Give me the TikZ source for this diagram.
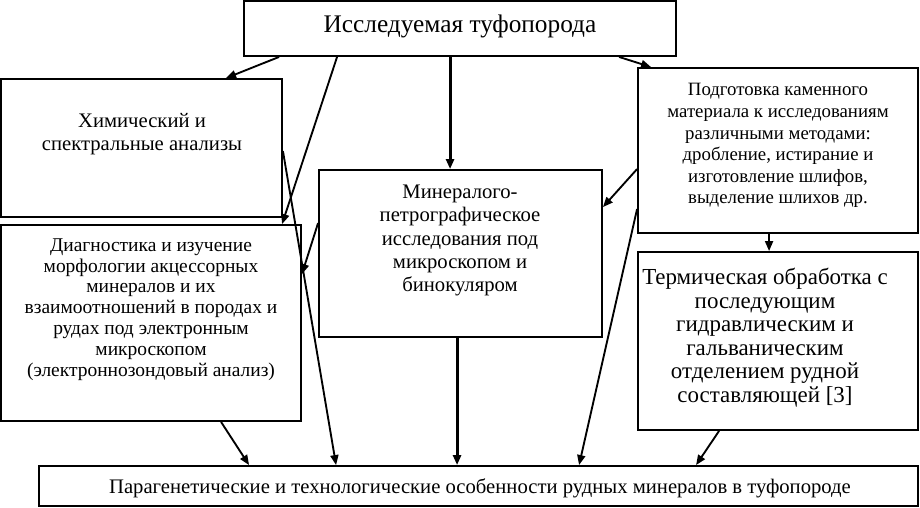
\documentclass[tikz,border=0pt]{standalone}
\usepackage{fontspec}
\setmainfont{Liberation Serif}
\usetikzlibrary{arrows.meta,calc,fit}

\begin{document}
\begin{tikzpicture}[x=0.75pt,y=-0.75pt,thick]

	\tikzstyle{block}=[draw,line width=1.4pt,inner sep=0pt]
	\tikzstyle{txt}=[anchor=north,inner sep=0pt,align=center]
	\tikzstyle{arr}=[line width=1.4pt,-{Triangle[length=7.5pt,width=6pt]}]

	\useasboundingbox (0,0) rectangle (920,507);

	% boxes
	\node[block,fit={(244,1) (676,56)}] (top) {};
	\node[block,fit={(1,79) (282,217)}] (chem) {};
	\node[block,fit={(1,225) (301,421)}] (diag) {};
	\node[block,fit={(319,170) (602,337)}] (miner) {};
	\node[block,fit={(638,68) (918,233)}] (prep) {};
	\node[block,fit={(638,252) (918,430)}] (therm) {};
	\node[block,fit={(39,466) (918,506)}] (res) {};

	% texts
	\node[anchor=base,inner sep=0pt,font=\fontsize{19}{22}\selectfont] (toptxt) at (460,32) {Исследуемая туфопорода};
	\node[txt,font=\fontsize{15.5}{17.25}\selectfont] (chemtxt) at (142,113) {Химический и\\спектральные анализы};
	\node[txt,font=\fontsize{14.6}{15.6}\selectfont] (diagtxt) at (151,238) {Диагностика и изучение\\морфологии акцессорных\\минералов и их\\взаимоотношений в породах и\\рудах под электронным\\микроскопом\\(электроннозондовый анализ)};
	\node[txt,font=\fontsize{15.5}{17.6}\selectfont] (minertxt) at (460,184) {Минералого-\\петрографическое\\исследования под\\микроскопом и\\бинокуляром};
	\node[txt,font=\fontsize{14.1}{16.2}\selectfont] (preptxt) at (778,83) {Подготовка каменного\\материала к исследованиям\\различными методами:\\дробление, истирание и\\изготовление шлифов,\\выделение шлихов др.};
	\node[txt,font=\fontsize{17.2}{17.6}\selectfont] (thermtxt) at (765,268) {Термическая обработка с\\последующим\\гидравлическим и\\гальваническим\\отделением рудной\\составляющей [3]};
	\node[anchor=base,inner sep=0pt,font=\fontsize{15.5}{17}\selectfont] (restxt) at (480,493) {Парагенетические и технологические особенности рудных минералов в туфопороде};

	% connectors
	\draw[arr] ($(top.south west)+(36,0)$) -- ($(chem.north west)+(226,0)$);
	\draw[arr] ($(top.south west)+(94,0)$) -- ($(diag.north west)+(282,0)$);
	\draw[arr,line width=2.2pt] ($(top.south west)+(207,0)$) -- ($(miner.north west)+(132,0)$);
	\draw[arr] ($(top.south west)+(376,0)$) -- ($(prep.north west)+(14,0)$);
	\draw[arr] ($(chem.north east)+(0,73)$) -- ($(res.north west)+(298,0)$);
	\draw[arr] ($(miner.north west)+(0,54)$) -- ($(diag.north east)+(0,50)$);
	\draw[arr] ($(prep.north west)+(0,102)$) -- ($(miner.north east)+(0,38)$);
	\draw[arr] ($(prep.north west)+(0,142)$) -- ($(res.north west)+(541,0)$);
	\draw[arr,line width=2.2pt] ($(miner.south west)+(139,0)$) -- ($(res.north west)+(419,0)$);
	\draw[arr] ($(prep.south west)+(132,0)$) -- ($(therm.north west)+(132,0)$);
	\draw[arr] ($(therm.south west)+(82,0)$) -- ($(res.north west)+(658,0)$);
	\draw[arr] ($(diag.south west)+(221,0)$) -- ($(res.north west)+(211,0)$);

\end{tikzpicture}
\end{document}
